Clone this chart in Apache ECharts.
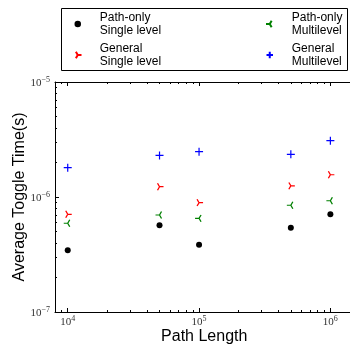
<!DOCTYPE html>
<html>
<head>
<meta charset="utf-8">
<script src="https://cdn.jsdelivr.net/npm/echarts@6/dist/echarts.min.js"></script>
<style>
  html, body { margin: 0; padding: 0; background: #fff; }
  #chart { width: 350px; height: 344px; }
</style>
</head>
<body>
<div id="chart"></div>
<script>
// data (log-log scatter)
const pathLengths = [1e4, 5e4, 1e5, 5e5, 1e6];
const pathOnlySingle = [3.44e-7, 5.67e-7, 3.85e-7, 5.41e-7, 7.07e-7];
const generalSingle = [7.07e-7, 1.23e-6, 8.93e-7, 1.25e-6, 1.56e-6];
const pathOnlyMulti = [5.91e-7, 6.97e-7, 6.52e-7, 8.47e-7, 9.28e-7];
const generalMulti = [1.80e-6, 2.30e-6, 2.48e-6, 2.35e-6, 3.09e-6];
const seriesNames = ["Path-only\nSingle level", "General\nSingle level", "Path-only\nMultilevel", "General\nMultilevel"];
const xLimits = [8e3, 1.5e6];
const yLimits = [1e-7, 1e-5];
const xTickExps = [4, 5, 6];
const yTickExps = [-7, -6, -5];

const lg = Math.log10;
const xMin = lg(xLimits[0]), xMax = lg(xLimits[1]);
const yMin = lg(yLimits[0]), yMax = lg(yLimits[1]);

function minorTicks(lo, hi) {
  const out = [];
  for (let e = Math.floor(lo); e <= Math.ceil(hi); e++) {
    for (let k = 2; k <= 9; k++) {
      const v = e + lg(k);
      if (v > lo && v < hi) out.push(v);
    }
  }
  return out;
}

const tickRich = {
  b: { fontFamily: "Liberation Serif", fontSize: 11, color: "#333", verticalAlign: "bottom" },
  s: { fontFamily: "Liberation Serif", fontSize: 8, color: "#333", verticalAlign: "bottom", padding: [0, 0, 5, 0] },
};
const expLabel = (v) => "{b|10}{s|" + String(Math.round(v)).replace("-", "\u2212") + "}";

const triRight = "path://M-1,0 M0,0 L1,0 M0,0 L-0.5,-0.866 M0,0 L-0.5,0.866";
const triLeft = "path://M1,0 M0,0 L-1,0 M0,0 L0.5,-0.866 M0,0 L0.5,0.866";
const plus = "path://M-1,0 L1,0 M0,-1 L0,1";

function pts(ys) {
  return pathLengths.map((x, i) => [lg(x), lg(ys[i])]);
}

function axis(pos, lo, hi, ticks, len, extra) {
  return Object.assign({
    type: "value",
    position: pos,
    min: lo,
    max: hi,
    axisLine: { show: false },
    axisTick: { show: true, inside: true, length: len, customValues: ticks, lineStyle: { color: "#000", width: 1 } },
    axisLabel: { show: false },
    splitLine: { show: false },
  }, extra || {});
}

const axisLine = { show: true, lineStyle: { color: "#000", width: 1 } };

const chart = echarts.init(document.getElementById("chart"));

const legendBase = {
  top: 8,
  orient: "vertical",
  padding: [3, 0, 3, 0],
  itemGap: 5,
  itemWidth: 34,
  itemHeight: 6.5,
  selectedMode: false,
  textStyle: { fontFamily: "Liberation Sans", fontSize: 12, lineHeight: 13, color: "#000" },
};

chart.setOption({
  animation: false,
  grid: { left: 55, top: 82, bottom: 32, right: -3.5, containLabel: false, outerBoundsMode: "none" },
  graphic: [{
    type: "rect",
    shape: { x: 61.5, y: 8.5, width: 286, height: 62 },
    style: { fill: "none", stroke: "#000", lineWidth: 1 },
  }],
  legend: [
    Object.assign({}, legendBase, {
      left: 73,
      data: [
        { name: seriesNames[0], itemStyle: { borderWidth: 0 } },
        { name: seriesNames[1] },
      ],
    }),
    Object.assign({}, legendBase, {
      left: 265,
      data: [{ name: seriesNames[2] }, { name: seriesNames[3] }],
    }),
  ],
  xAxis: [
    axis("bottom", xMin, xMax, xTickExps, 4, {
      axisLine: axisLine,
      axisLabel: { show: true, customValues: xTickExps, formatter: expLabel, rich: tickRich, margin: 3 },
      name: "Path Length",
      nameLocation: "middle",
      nameGap: 17,
      nameMoveOverlap: false,
      nameTextStyle: { fontFamily: "Liberation Sans", fontSize: 16, color: "#000" },
    }),
    axis("bottom", xMin, xMax, minorTicks(xMin, xMax), 2),
    axis("top", xMin, xMax, xTickExps, 4, { axisLine: axisLine }),
    axis("top", xMin, xMax, minorTicks(xMin, xMax), 2),
  ],
  yAxis: [
    axis("left", yMin, yMax, yTickExps, 4, {
      axisLine: axisLine,
      axisLabel: { show: true, customValues: yTickExps, formatter: expLabel, rich: tickRich, margin: 5 },
      name: "Average Toggle Time(s)",
      nameLocation: "middle",
      nameGap: 27,
      nameMoveOverlap: false,
      nameTextStyle: { fontFamily: "Liberation Sans", fontSize: 16, color: "#000" },
    }),
    axis("left", yMin, yMax, minorTicks(yMin, yMax), 2),
  ],
  series: [
    {
      name: seriesNames[0], type: "scatter", data: pts(pathOnlySingle),
      symbol: "circle", symbolSize: 6,
      itemStyle: { color: "#000", borderWidth: 0, opacity: 1 },
    },
    {
      name: seriesNames[1], type: "scatter", data: pts(generalSingle),
      symbol: triRight, symbolSize: [8, 6.93],
      itemStyle: { color: "#ff0000", borderColor: "#ff0000", borderWidth: 1.2, opacity: 1 },
    },
    {
      name: seriesNames[2], type: "scatter", data: pts(pathOnlyMulti),
      symbol: triLeft, symbolSize: [8, 6.93],
      itemStyle: { color: "#008000", borderColor: "#008000", borderWidth: 1.2, opacity: 1 },
    },
    {
      name: seriesNames[3], type: "scatter", data: pts(generalMulti),
      symbol: plus, symbolSize: 8,
      itemStyle: { color: "#0000ff", borderColor: "#0000ff", borderWidth: 1.2, opacity: 1 },
    },
  ],
});
</script>
</body>
</html>
